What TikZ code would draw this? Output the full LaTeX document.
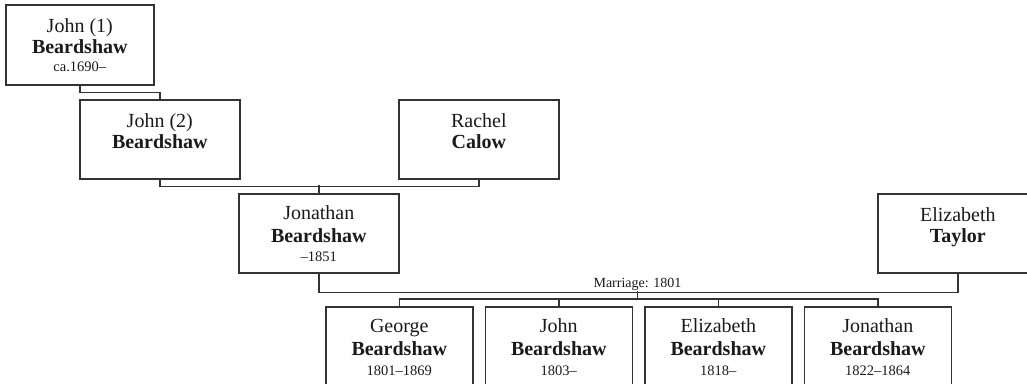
\documentclass[tikz,border=0pt]{standalone}
\usepackage{fontspec}
\setmainfont{Liberation Serif}
\definecolor{linec}{HTML}{333333}
\definecolor{textc}{HTML}{1A1A1A}
\tikzset{
  person/.style={draw=linec, line width=1.6pt, fill=white, rectangle, inner sep=0pt, anchor=north west},
  conn/.style={draw=linec, line width=1.6pt},
  given/.style={anchor=base, inner sep=0pt, text=textc, font=\fontsize{20}{24}\selectfont},
  family/.style={anchor=base, inner sep=0pt, text=textc, font=\fontsize{20}{24}\selectfont\bfseries},
  dates/.style={anchor=base, inner sep=0pt, text=textc, font=\fontsize{14.5}{17}\selectfont},
  marr/.style={anchor=base, inner sep=0pt, text=textc, font=\fontsize{14}{17}\selectfont}
}
\begin{document}
\begin{tikzpicture}[x=1pt,y=-1pt]
\useasboundingbox (0,0) rectangle (1027,383);
\clip (0,0) rectangle (1027,383);
% boxes
\node[person, minimum width=148pt, minimum height=80pt] (j1) at (5,4) {};
\node[person, minimum width=160pt, minimum height=79pt] (j2) at (79,99) {};
\node[person, minimum width=160pt, minimum height=79pt] (rc) at (398,99) {};
\node[person, minimum width=160pt, minimum height=79pt] (jon) at (238,193) {};
\node[person, minimum width=160pt, minimum height=79pt] (et) at (877,193) {};
\node[person, minimum width=147pt, minimum height=80pt] (c1) at (325,306) {};
\node[person, minimum width=147pt, minimum height=80pt] (c2) at (484.5,306) {};
\node[person, minimum width=147pt, minimum height=80pt] (c3) at (644,306) {};
\node[person, minimum width=147pt, minimum height=80pt] (c4) at (803.5,306) {};
% texts
\node[given]  (j1a) at ([yshift=-28pt]j1.north) {John (1)};
\node[family] (j1b) at ([yshift=-49pt]j1.north) {Beardshaw};
\node[dates]  (j1c) at ([yshift=-67pt]j1.north) {ca.1690–};
\node[given]  (j2a) at ([yshift=-28pt]j2.north) {John (2)};
\node[family] (j2b) at ([yshift=-49pt]j2.north) {Beardshaw};
\node[given]  (rca) at ([yshift=-28pt]rc.north) {Rachel};
\node[family] (rcb) at ([yshift=-49pt]rc.north) {Calow};
\node[given]  (jona) at ([yshift=-26pt]jon.north) {Jonathan};
\node[family] (jonb) at ([yshift=-49pt]jon.north) {Beardshaw};
\node[dates]  (jonc) at ([yshift=-68pt]jon.north) {–1851};
\node[given]  (eta) at ([yshift=-28pt]et.north) {Elizabeth};
\node[family] (etb) at ([yshift=-49pt]et.north) {Taylor};
\node[given]  (c1a) at ([yshift=-26pt]c1.north) {George};
\node[family] (c1b) at ([yshift=-49pt]c1.north) {Beardshaw};
\node[dates]  (c1c) at ([yshift=-69pt]c1.north) {1801–1869};
\node[given]  (c2a) at ([yshift=-26pt]c2.north) {John};
\node[family] (c2b) at ([yshift=-49pt]c2.north) {Beardshaw};
\node[dates]  (c2c) at ([yshift=-69pt]c2.north) {1803–};
\node[given]  (c3a) at ([yshift=-26pt]c3.north) {Elizabeth};
\node[family] (c3b) at ([yshift=-49pt]c3.north) {Beardshaw};
\node[dates]  (c3c) at ([yshift=-69pt]c3.north) {1818–};
\node[given]  (c4a) at ([yshift=-26pt]c4.north) {Jonathan};
\node[family] (c4b) at ([yshift=-49pt]c4.north) {Beardshaw};
\node[dates]  (c4c) at ([yshift=-69pt]c4.north) {1822–1864};
% connectors
\draw[conn] (j1.south) -- ++(0,7) -| (j2.north);
\draw[conn] (j2.south) -- ++(0,7) -| (rc.south);
\draw[conn] (jon.north) -- ++(0,-8);
\draw[conn] (jon.south) -- ++(0,19) -| (et.south);
\coordinate (mar) at (637.5,291);
\node[marr] (mlabel) at (637.5,287) {Marriage: 1801};
\draw[conn] (mar) -- ++(0,8);
\draw[conn] (c1.north) -- ++(0,-7) -| (c4.north);
\draw[conn] (c2.north) -- ++(0,-7);
\draw[conn] (c3.north) -- ++(0,-7);
\end{tikzpicture}
\end{document}
